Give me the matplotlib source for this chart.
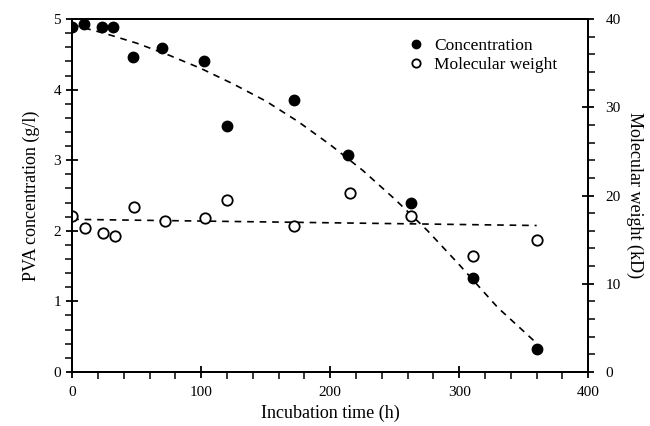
import numpy as np
import matplotlib.pyplot as plt
from matplotlib.ticker import MultipleLocator

plt.rcParams['font.family'] = ['Liberation Serif', 'DejaVu Serif']

# measured points
conc_t = [0, 9, 23, 32, 47, 70, 102, 120, 172, 214, 263, 311, 360]
conc = [4.89, 4.93, 4.89, 4.89, 4.46, 4.59, 4.40, 3.48, 3.86, 3.07, 2.40, 1.33, 0.33]

mw_t = [0, 10, 24, 33, 48, 72, 103, 120, 172, 215, 263, 311, 360]
mw = [17.7, 16.3, 15.7, 15.4, 18.7, 17.1, 17.5, 19.5, 16.5, 20.3, 17.7, 13.1, 15.0]

# fitted curves
conc_fit_t = [0, 25, 50, 75, 100, 125, 150, 175, 200, 225, 250, 275, 300, 330, 358]
conc_fit = [4.92, 4.80, 4.66, 4.49, 4.30, 4.08, 3.84, 3.55, 3.22, 2.86, 2.45, 2.01,
            1.52, 0.91, 0.44]
mw_fit_t = [0, 360]
mw_fit = [17.3, 16.6]

fig = plt.figure(figsize=(6.5, 4.26), dpi=100)
ax = fig.add_axes([0.111, 0.127, 0.794, 0.828])
ax2 = ax.twinx()

ax.plot(conc_fit_t, conc_fit, color='black', lw=1.2, ls=(0, (4, 3.5)))
ax2.plot(mw_fit_t, mw_fit, color='black', lw=1.2, ls=(0, (4, 3.5)))

h1, = ax.plot(conc_t, conc, 'o', color='black', ms=7.5, ls='none', label='Concentration')
h2, = ax2.plot(mw_t, mw, 'o', mfc='white', mec='black', mew=1.3, ms=7.5, ls='none',
               label='Molecular weight')

ax.set_xlim(0, 400)
ax.set_ylim(0, 5)
ax2.set_ylim(0, 40)

ax.xaxis.set_major_locator(MultipleLocator(100))
ax.xaxis.set_minor_locator(MultipleLocator(20))
ax.yaxis.set_major_locator(MultipleLocator(1))
ax.yaxis.set_minor_locator(MultipleLocator(0.2))
ax2.yaxis.set_major_locator(MultipleLocator(10))
ax2.yaxis.set_minor_locator(MultipleLocator(2))

for a in (ax, ax2):
    a.tick_params(which='major', direction='inout', length=9, width=1.3, labelsize=11)
    a.tick_params(which='minor', direction='out', length=5, width=1.1)
    for s in a.spines.values():
        s.set_linewidth(1.4)
ax.tick_params(axis='x', pad=6)
ax2.tick_params(axis='y', pad=8)

ax.set_xlabel('Incubation time (h)', fontsize=13)
ax.set_ylabel('PVA concentration (g/l)', fontsize=13, labelpad=10)
ax2.set_ylabel('Molecular weight (kD)', fontsize=13, rotation=-90, labelpad=16)

ax2.legend(handles=[h1, h2], loc='upper left', bbox_to_anchor=(0.62, 0.99),
           frameon=False, fontsize=12.5, handlelength=1.0, handletextpad=0.5,
           labelspacing=0.15, markerscale=0.8)

fig.savefig('out.png', dpi=100)
